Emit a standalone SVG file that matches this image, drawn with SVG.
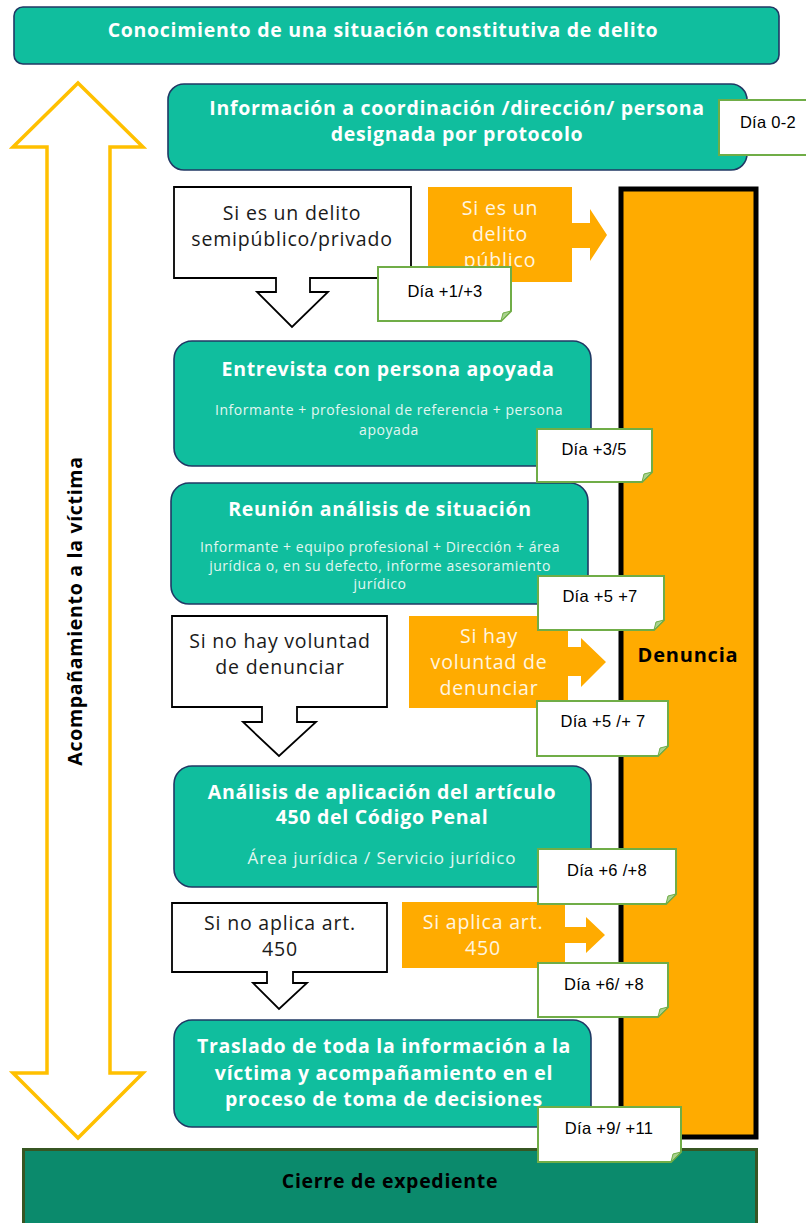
<svg xmlns="http://www.w3.org/2000/svg" width="806" height="1223" viewBox="0 0 806 1223">
<style>
.teal{fill:#10BE9E;stroke:#203864;stroke-width:1.6}
.wbox{fill:#FFFFFF;stroke:#000000;stroke-width:1.8}
.orange{fill:#FFAB00}
.note{fill:#FFFFFF;stroke:#70AD47;stroke-width:2}
.fold{fill:#A9D18E;stroke:#70AD47;stroke-width:1}
.tt{font-family:"Open Sans","Liberation Sans",sans-serif;font-weight:bold;font-size:19.5px;letter-spacing:0.7px;fill:#FFFFFF;text-anchor:middle}
.st{font-family:"Open Sans","Liberation Sans",sans-serif;font-size:14px;letter-spacing:0.55px;fill:#E2F7F1;text-anchor:middle}
.wt{font-family:"Open Sans","Liberation Sans",sans-serif;font-size:19.5px;letter-spacing:0.8px;fill:#1A1A1A;text-anchor:middle}
.ot{font-family:"Open Sans","Liberation Sans",sans-serif;font-size:19.5px;letter-spacing:0.8px;fill:#FFF6E0;text-anchor:middle}
.nt{font-family:"Liberation Sans",Arial,sans-serif;font-size:16.5px;letter-spacing:0.3px;fill:#000000;text-anchor:middle}
.bt{font-family:"Open Sans","Liberation Sans",sans-serif;font-weight:bold;font-size:19.5px;letter-spacing:0.7px;fill:#000000;text-anchor:middle}
</style>

<g id="connectors">
  <path id="acompanamiento-arrow" d="M78,83 L143,147 L110,147 L110,1073 L143,1073 L78,1138 L13,1073 L47,1073 L47,147 L13,147 Z" fill="#FFFFFF" stroke="#FFC000" stroke-width="3.5" stroke-linejoin="miter"/>
</g>

<g id="acompanamiento-label">
  <text class="bt" transform="translate(82,611) rotate(-90)">Acompañamiento a la víctima</text>
</g>

<g id="denuncia">
  <rect x="621" y="189" width="135" height="948" fill="#FFAB00" stroke="#000000" stroke-width="5"/>
  <text class="bt" x="688" y="662" style="font-size:20px;letter-spacing:0.8px">Denuncia</text>
</g>

<g id="cierre">
  <rect x="23.5" y="1149.5" width="733" height="80" fill="#0B8A6C" stroke="#375623" stroke-width="3"/>
  <text class="bt" x="390" y="1188">Cierre de expediente</text>
</g>

<g id="conocimiento">
  <rect class="teal" x="14" y="7" width="765" height="57" rx="9"/>
  <text class="tt" x="383" y="37">Conocimiento de una situación constitutiva de delito</text>
</g>

<g id="informacion">
  <rect class="teal" x="168" y="84" width="579" height="86" rx="16"/>
  <text class="tt" x="457" y="115">Información a coordinación /dirección/ persona</text>
  <text class="tt" x="457" y="141">designada por protocolo</text>
</g>

<g id="semipublico">
  <path class="wbox" d="M174,187 H411 V278 H310 V292 H328 L292,327 L257,292 H276 V278 H174 Z"/>
  <text class="wt" x="292" y="220">Si es un delito</text>
  <text class="wt" x="292" y="246">semipúblico/privado</text>
</g>

<g id="publico">
  <path class="orange" d="M428,187 H572 V223 H590 V209 L607,235 L590,261 V248 H572 V282 H428 Z"/>
  <text class="ot" x="500" y="215">Si es un</text>
  <text class="ot" x="500" y="241">delito</text>
  <text class="ot" x="500" y="267">público</text>
</g>

<g id="entrevista">
  <rect class="teal" x="174" y="341" width="417" height="125" rx="18"/>
  <text class="tt" x="388" y="376">Entrevista con persona apoyada</text>
  <text class="st" x="389" y="415">Informante + profesional de referencia + persona</text>
  <text class="st" x="389" y="435">apoyada</text>
</g>

<g id="reunion">
  <rect class="teal" x="171" y="483" width="417" height="121" rx="18"/>
  <text class="tt" x="380" y="516">Reunión análisis de situación</text>
  <text class="st" x="380" y="552">Informante + equipo profesional + Dirección + área</text>
  <text class="st" x="380" y="571">jurídica o, en su defecto, informe asesoramiento</text>
  <text class="st" x="380" y="589">jurídico</text>
</g>

<g id="no-voluntad">
  <path class="wbox" d="M172,616 H387 V707 H297 V722 H316 L279,756 L243,722 H262 V707 H172 Z"/>
  <text class="wt" x="280" y="648">Si no hay voluntad</text>
  <text class="wt" x="280" y="674">de denunciar</text>
</g>

<g id="voluntad">
  <path class="orange" d="M409,616 H568 V647 H581 V638 L606,662 L581,687 V676 H568 V708 H409 Z"/>
  <text class="ot" x="489" y="643">Si hay</text>
  <text class="ot" x="489" y="669">voluntad de</text>
  <text class="ot" x="489" y="695">denunciar</text>
</g>

<g id="analisis">
  <rect class="teal" x="174" y="766" width="417" height="121" rx="18"/>
  <text class="tt" x="382" y="799">Análisis de aplicación del artículo</text>
  <text class="tt" x="382" y="824">450 del Código Penal</text>
  <text class="st" x="382" y="864" style="font-size:17px;letter-spacing:0.9px">Área jurídica / Servicio jurídico</text>
</g>

<g id="no-aplica">
  <path class="wbox" d="M172,903 H387 V972 H293 V983 H307 L279,1009 L253,983 H267 V972 H172 Z"/>
  <text class="wt" x="280" y="930">Si no aplica art.</text>
  <text class="wt" x="280" y="956">450</text>
</g>

<g id="aplica">
  <path class="orange" d="M402,902 H565 V927 H586 V917 L605,935 L586,953 V943 H565 V968 H402 Z"/>
  <text class="ot" x="483" y="929">Si aplica art.</text>
  <text class="ot" x="483" y="955">450</text>
</g>

<g id="traslado">
  <rect class="teal" x="174" y="1020" width="417" height="107" rx="18"/>
  <text class="tt" x="384" y="1053">Traslado de toda la información a la</text>
  <text class="tt" x="384" y="1080">víctima y acompañamiento en el</text>
  <text class="tt" x="384" y="1106">proceso de toma de decisiones</text>
</g>

<g id="dia-0-2">
  <path class="note" d="M719,100 H816 V155 H719 Z"/>
  <text class="nt" x="768" y="128">Día 0-2</text>
</g>

<g id="dia-1-3">
  <path class="note" d="M378,267 H511 V311 L501,321 H378 Z"/>
  <path class="fold" d="M501,321 L511,311 L503,313 Z"/>
  <text class="nt" x="445" y="297">Día +1/+3</text>
</g>

<g id="dia-3-5">
  <path class="note" d="M537,429 H652 V472 L642,482 H537 Z"/>
  <path class="fold" d="M642,482 L652,472 L644,474 Z"/>
  <text class="nt" x="594" y="455">Día +3/5</text>
</g>

<g id="dia-5-7a">
  <path class="note" d="M538,576 H664 V620 L654,630 H538 Z"/>
  <path class="fold" d="M654,630 L664,620 L656,622 Z"/>
  <text class="nt" x="600" y="602">Día +5 +7</text>
</g>

<g id="dia-5-7b">
  <path class="note" d="M537,701 H668 V746 L658,756 H537 Z"/>
  <path class="fold" d="M658,756 L668,746 L660,748 Z"/>
  <text class="nt" x="603" y="727">Día +5 /+ 7</text>
</g>

<g id="dia-6-8a">
  <path class="note" d="M538,849 H676 V894 L666,904 H538 Z"/>
  <path class="fold" d="M666,904 L676,894 L668,896 Z"/>
  <text class="nt" x="607" y="876">Día +6 /+8</text>
</g>

<g id="dia-6-8b">
  <path class="note" d="M538,963 H668 V1007 L658,1017 H538 Z"/>
  <path class="fold" d="M658,1017 L668,1007 L660,1009 Z"/>
  <text class="nt" x="604" y="990">Día +6/ +8</text>
</g>

<g id="dia-9-11">
  <path class="note" d="M538,1107 H681 V1152 L671,1162 H538 Z"/>
  <path class="fold" d="M671,1162 L681,1152 L673,1154 Z"/>
  <text class="nt" x="609" y="1134">Día +9/ +11</text>
</g>
</svg>
